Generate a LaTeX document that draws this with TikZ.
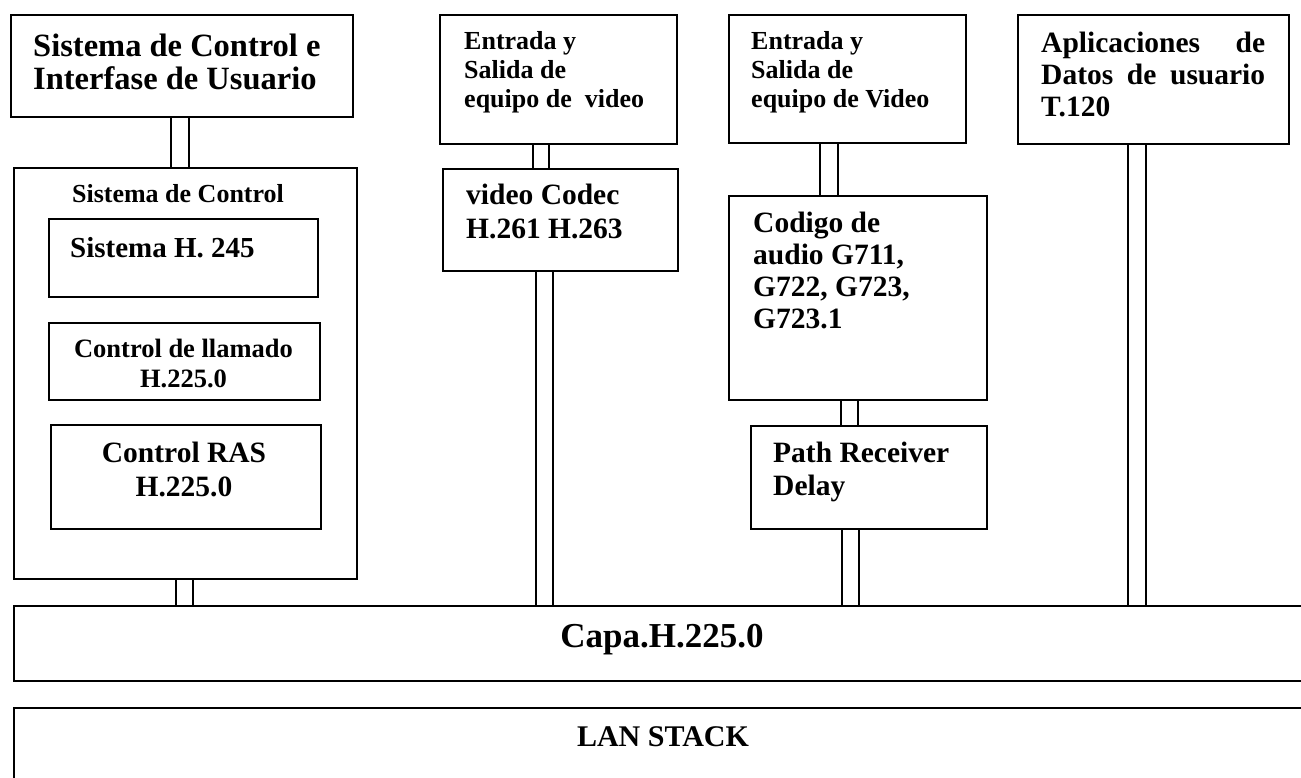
\documentclass[tikz,border=0pt]{standalone}
\usepackage{fontspec}
\setmainfont{Liberation Serif}
\tikzset{
  box/.style={draw, line width=2pt, inner sep=0pt, anchor=north west},
  link/.style={line width=2pt},
  lbl/.style={inner sep=0pt, font=\bfseries},
}
\newcommand\fs[2]{\fontsize{#1}{#2}\selectfont}
\begin{document}
\begin{tikzpicture}[x=1pt,y=-1pt]
\useasboundingbox (0,0) rectangle (1301,778);
\fill[white] (0,0) rectangle (1301,778);
\clip (0,0) rectangle (1301,778);
% boxes
\node[box, minimum width=342pt, minimum height=102pt] (sysui) at (10,14) {};
\node[box, minimum width=343pt, minimum height=411pt] (ctrl) at (13,167) {};
\node[box, minimum width=269pt, minimum height=78pt] (h245) at (48,218) {};
\node[box, minimum width=271pt, minimum height=77pt] (llam) at (48,322) {};
\node[box, minimum width=270pt, minimum height=104pt] (ras) at (50,424) {};
\node[box, minimum width=237pt, minimum height=129pt] (vio) at (439,14) {};
\node[box, minimum width=235pt, minimum height=102pt] (vcodec) at (442,168) {};
\node[box, minimum width=237pt, minimum height=128pt] (aio) at (728,14) {};
\node[box, minimum width=258pt, minimum height=204pt] (acodec) at (728,195) {};
\node[box, minimum width=236pt, minimum height=103pt] (path) at (750,425) {};
\node[box, minimum width=271pt, minimum height=129pt] (t120) at (1017,14) {};
\node[box, minimum width=1320pt, minimum height=75pt] (capa) at (13,605) {};
\node[box, minimum width=1320pt, minimum height=100pt] (lan) at (13,707) {};
% double connectors
\draw[link] (171,0 |- sysui.south) -- (171,0 |- ctrl.north);
\draw[link] (189,0 |- sysui.south) -- (189,0 |- ctrl.north);
\draw[link] (176,0 |- ctrl.south) -- (176,0 |- capa.north);
\draw[link] (193,0 |- ctrl.south) -- (193,0 |- capa.north);
\draw[link] (533,0 |- vio.south) -- (533,0 |- vcodec.north);
\draw[link] (549,0 |- vio.south) -- (549,0 |- vcodec.north);
\draw[link] (536,0 |- vcodec.south) -- (536,0 |- capa.north);
\draw[link] (553,0 |- vcodec.south) -- (553,0 |- capa.north);
\draw[link] (820,0 |- aio.south) -- (820,0 |- acodec.north);
\draw[link] (838,0 |- aio.south) -- (838,0 |- acodec.north);
\draw[link] (841,0 |- acodec.south) -- (841,0 |- path.north);
\draw[link] (858,0 |- acodec.south) -- (858,0 |- path.north);
\draw[link] (842,0 |- path.south) -- (842,0 |- capa.north);
\draw[link] (859,0 |- path.south) -- (859,0 |- capa.north);
\draw[link] (1128,0 |- t120.south) -- (1128,0 |- capa.north);
\draw[link] (1146,0 |- t120.south) -- (1146,0 |- capa.north);
% texts
\node[lbl, anchor=base west] (tsysui) at (33,57) {\fs{32.5}{33}\begin{tabular}[t]{@{}l@{}}Sistema de Control e\\Interfase de Usuario\end{tabular}};
\node[lbl, anchor=base] (tctrl) at (178,203) {\fs{26}{30}Sistema de Control};
\node[lbl, anchor=base west] (th245) at (70,257) {\fs{29}{32}Sistema H. 245};
\node[lbl, anchor=base] (tllam) at (183.5,357) {\fs{26.5}{30}\begin{tabular}[t]{@{}c@{}}Control de llamado\\H.225.0\end{tabular}};
\node[lbl, anchor=base] (tras) at (184,462) {\fs{29.5}{34}\begin{tabular}[t]{@{}c@{}}Control RAS\\H.225.0\end{tabular}};
\node[lbl, anchor=base west] (tvio) at (464,50) {\fs{26}{29}\begin{tabular}[t]{@{}l@{}}Entrada y\\Salida de\\equipo de\ \ video\end{tabular}};
\node[lbl, anchor=base west] (tvcodec) at (466,205) {\fs{29.5}{33}\begin{tabular}[t]{@{}l@{}}video Codec\\H.261 H.263\end{tabular}};
\node[lbl, anchor=base west] (taio) at (751,50) {\fs{26}{29}\begin{tabular}[t]{@{}l@{}}Entrada y\\Salida de\\equipo de Video\end{tabular}};
\node[lbl, anchor=base west] (tacodec) at (753,233) {\fs{29.5}{32}\begin{tabular}[t]{@{}l@{}}Codigo de\\audio G711,\\G722, G723,\\G723.1\end{tabular}};
\node[lbl, anchor=base west] (tpath) at (773,462) {\fs{29.5}{33}\begin{tabular}[t]{@{}l@{}}Path Receiver\\Delay\end{tabular}};
\node[lbl, anchor=base west] (tt120) at (1041,53) {\fs{29.5}{32}\begin{tabular}[t]{@{}l@{}}\makebox[224pt][s]{Aplicaciones de}\\\makebox[224pt][s]{Datos de usuario}\\T.120\end{tabular}};
\node[lbl, anchor=base] (tcapa) at (662,647) {\fs{35}{38}Capa.H.225.0};
\node[lbl, anchor=base] (tlan) at (663,746) {\fs{30}{32}LAN STACK};
\end{tikzpicture}
\end{document}
